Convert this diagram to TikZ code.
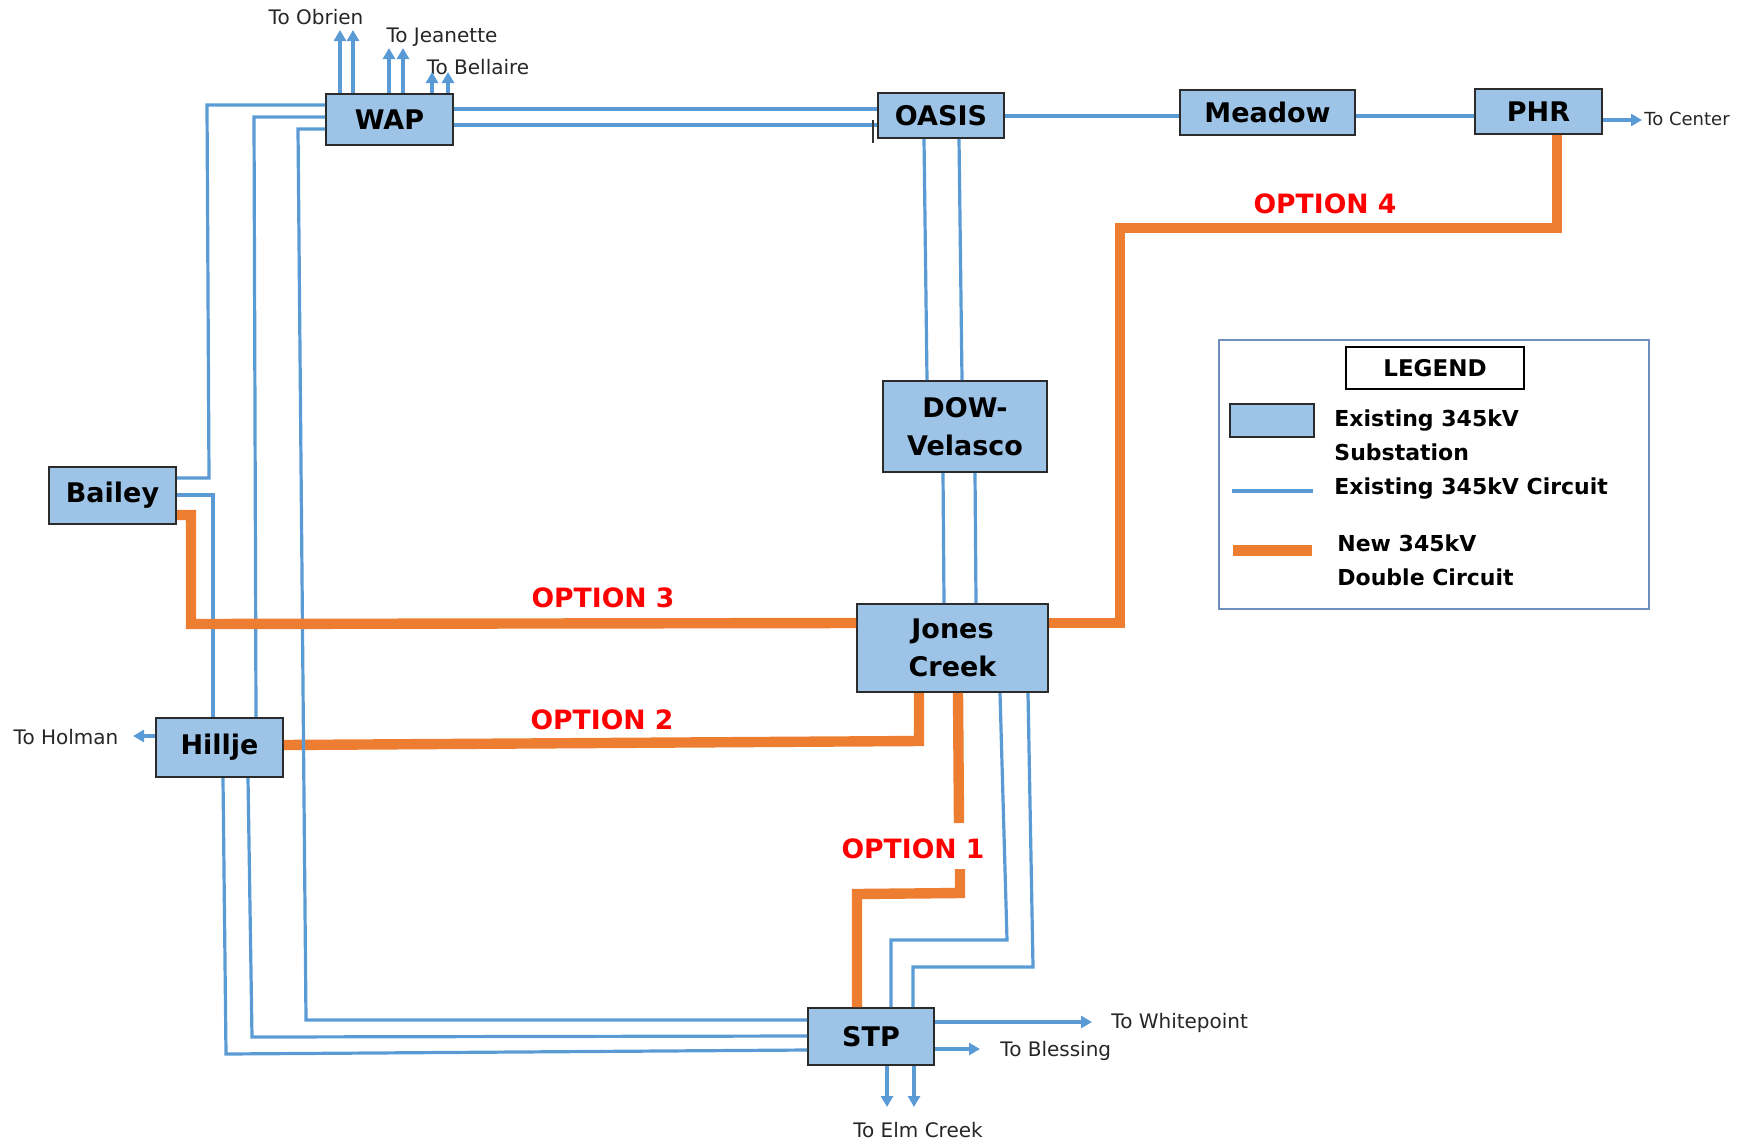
\documentclass[tikz,border=0pt]{standalone}
\usepackage{fontspec}
\setmainfont{DejaVu Sans}
\usetikzlibrary{arrows.meta}

\definecolor{boxfill}{HTML}{9DC3E6}
\definecolor{boxedge}{HTML}{2B2B2B}
\definecolor{lineblue}{HTML}{5B9BD5}
\definecolor{neworange}{HTML}{ED7D31}
\definecolor{optred}{HTML}{FF0000}
\definecolor{legframe}{HTML}{6F8FBF}

\begin{document}
\begin{tikzpicture}[x=0.5pt,y=-0.5pt,
	substation/.style={draw=boxedge, fill=boxfill, line width=1pt, inner sep=0pt, align=center, font=\fontsize{13.5}{19}\selectfont\bfseries},
	circuit/.style={draw=lineblue, line width=1.6pt},
	feed/.style={circuit, -{Triangle[length=5.5pt,width=6pt]}},
	newline/.style={draw=neworange, line width=5.2pt},
	optlabel/.style={text=optred, inner sep=0pt, font=\fontsize{13.3}{16}\selectfont\bfseries},
	tolabel/.style={text=black!85, inner sep=0pt, font=\fontsize{10}{12}\selectfont},
	legtext/.style={anchor=west, align=left, inner sep=0pt, font=\fontsize{11}{17}\selectfont\bfseries}]
\useasboundingbox (0,0) rectangle (1750,1141);

%substations
\node[substation, minimum width=63.5pt, minimum height=25.5pt] (wap) at (389.5,119.5) {WAP};
\node[substation, minimum width=63pt, minimum height=22.5pt] (oasis) at (941,115.5) {OASIS};
\node[substation, minimum width=87.5pt, minimum height=22.5pt] (meadow) at (1267.5,112.5) {Meadow};
\node[substation, minimum width=63.5pt, minimum height=22.5pt] (phr) at (1538.5,111.5) {PHR};
\node[substation, minimum width=82pt, minimum height=45.5pt] (dow) at (965,426.5) {DOW-\\Velasco};
\node[substation, minimum width=95.5pt, minimum height=44pt] (jones) at (952.5,648) {Jones\\Creek};
\node[substation, minimum width=63.5pt, minimum height=28.5pt] (bailey) at (112.5,495.5) {Bailey};
\node[substation, minimum width=63.5pt, minimum height=29.5pt] (hillje) at (219.5,747.5) {Hillje};
\node[substation, minimum width=63pt, minimum height=28.5pt] (stp) at (871,1036.5) {STP};

%outside labels
\node[tolabel] (obrien) at (316,17) {To Obrien};
\node[tolabel] (jeanette) at (442,37) {To Jeanette};
\node[tolabel] (bellaire) at (478,67) {To Bellaire};
\node[tolabel, font=\fontsize{9}{11}\selectfont, anchor=west] (center) at (1644,119) {To Center};
\node[tolabel] (holman) at (66,737) {To Holman};
\node[tolabel, anchor=west] (whitepoint) at (1111,1023) {To Whitepoint};
\node[tolabel, anchor=west] (blessing) at (1000,1051) {To Blessing};
\node[tolabel] (elmcreek) at (918,1130) {To Elm Creek};

%option 2 (under the blue lines)
\draw[newline] (hillje.east |- 0,745) -- (919,741) -- (jones.south -| 919,0);

%WAP
\draw[circuit] (wap.west |- 0,105) -- (207,105) -- (209,478) -- (bailey.east |- 0,478);
\draw[circuit] (wap.west |- 0,117) -- (254,117) -- (hillje.north -| 256,0);
\draw[circuit] (wap.west |- 0,129) -- (298,129) -- (306,1020) -- (stp.west |- 0,1020);
\draw[circuit] (wap.east |- 0,109) -- (oasis.west |- 0,109);
\draw[circuit] (wap.east |- 0,125) -- (oasis.west |- 0,125);
\draw[black!80, line width=0.6pt] (873,120) -- (873,143);
\coordinate (ob1) at (340,30);
\coordinate (ob2) at (353,30);
\coordinate (je1) at (389,48);
\coordinate (je2) at (403,48);
\coordinate (be1) at (432,72);
\coordinate (be2) at (448,72);
\foreach \c in {ob1,ob2,je1,je2,be1,be2}{
	\draw[feed] (wap.north -| \c) -- (\c);
}

%Bailey, Hillje
\draw[circuit] (bailey.east |- 0,495) -- (213,495) -- (hillje.north -| 213,0);
\draw[circuit] (hillje.south -| 223,0) -- (226,1054) -- (stp.west |- 0,1050);
\draw[circuit] (hillje.south -| 248,0) -- (252,1037) -- (stp.west |- 0,1036);
\coordinate (ho) at (133,736);
\draw[feed] (hillje.west |- ho) -- (ho);

%OASIS, Meadow, PHR
\draw[circuit] (oasis.east |- 0,116) -- (meadow.west |- 0,116);
\draw[circuit] (meadow.east |- 0,116) -- (phr.west |- 0,116);
\coordinate (ce) at (1642,120);
\draw[feed] (phr.east |- ce) -- (ce);
\draw[circuit] (oasis.south -| 924,0) -- (dow.north -| 927,0);
\draw[circuit] (oasis.south -| 959,0) -- (dow.north -| 962,0);

%DOW-Velasco, Jones Creek
\draw[circuit] (dow.south -| 943,0) -- (jones.north -| 944,0);
\draw[circuit] (dow.south -| 975,0) -- (jones.north -| 976,0);
\draw[circuit] (jones.south -| 1000,0) -- (1007,940) -- (891,940) -- (stp.north -| 891,0);
\draw[circuit] (jones.south -| 1028,0) -- (1033,967) -- (913,967) -- (stp.north -| 913,0);

%STP
\coordinate (wp) at (1092,1022);
\coordinate (bl) at (980,1049);
\coordinate (el1) at (887,1107);
\coordinate (el2) at (914,1107);
\draw[feed] (stp.east |- wp) -- (wp);
\draw[feed] (stp.east |- bl) -- (bl);
\draw[feed] (stp.south -| el1) -- (el1);
\draw[feed] (stp.south -| el2) -- (el2);

%option 3
\draw[newline] (bailey.east |- 0,515) -- (191,515) -- (191,624) -- (jones.west |- 0,623);
%option 1
\coordinate (o1a) at (959,823);
\coordinate (o1b) at (960,869);
\draw[newline] (jones.south -| 958,0) -- (o1a);
\draw[newline] (o1b) -- (960,893) -- (857,894) -- (stp.north -| 857,0);
%option 4
\draw[newline] (jones.east |- 0,623) -- (1120,623) -- (1120,228) -- (1557,228) -- (phr.south -| 1557,0);

\node[optlabel] (opt1) at (913,849) {OPTION 1};
\node[optlabel] (opt2) at (602,720) {OPTION 2};
\node[optlabel] (opt3) at (603,598) {OPTION 3};
\node[optlabel] (opt4) at (1325,204) {OPTION 4};

%legend
\draw[legframe, line width=0.8pt] (1219,340) rectangle (1649,609);
\node[draw=black, line width=0.6pt, minimum width=89pt, minimum height=21pt, inner sep=0pt, font=\fontsize{11.5}{14}\selectfont\bfseries] (legend) at (1435,368) {LEGEND};
\node[substation, minimum width=42pt, minimum height=16.5pt] (swatch) at (1272,420.5) {};
\draw[circuit] (1232,491) -- (1313,491);
\draw[newline, line width=5.5pt] (1233,550) -- (1312,550);
\node[legtext] (legsub) at (1334,435) {Existing 345kV\\Substation};
\node[legtext] (legcirc) at (1334,489) {Existing 345kV Circuit};
\node[legtext] (legnew) at (1337,560) {New 345kV\\Double Circuit};
\end{tikzpicture}
\end{document}
